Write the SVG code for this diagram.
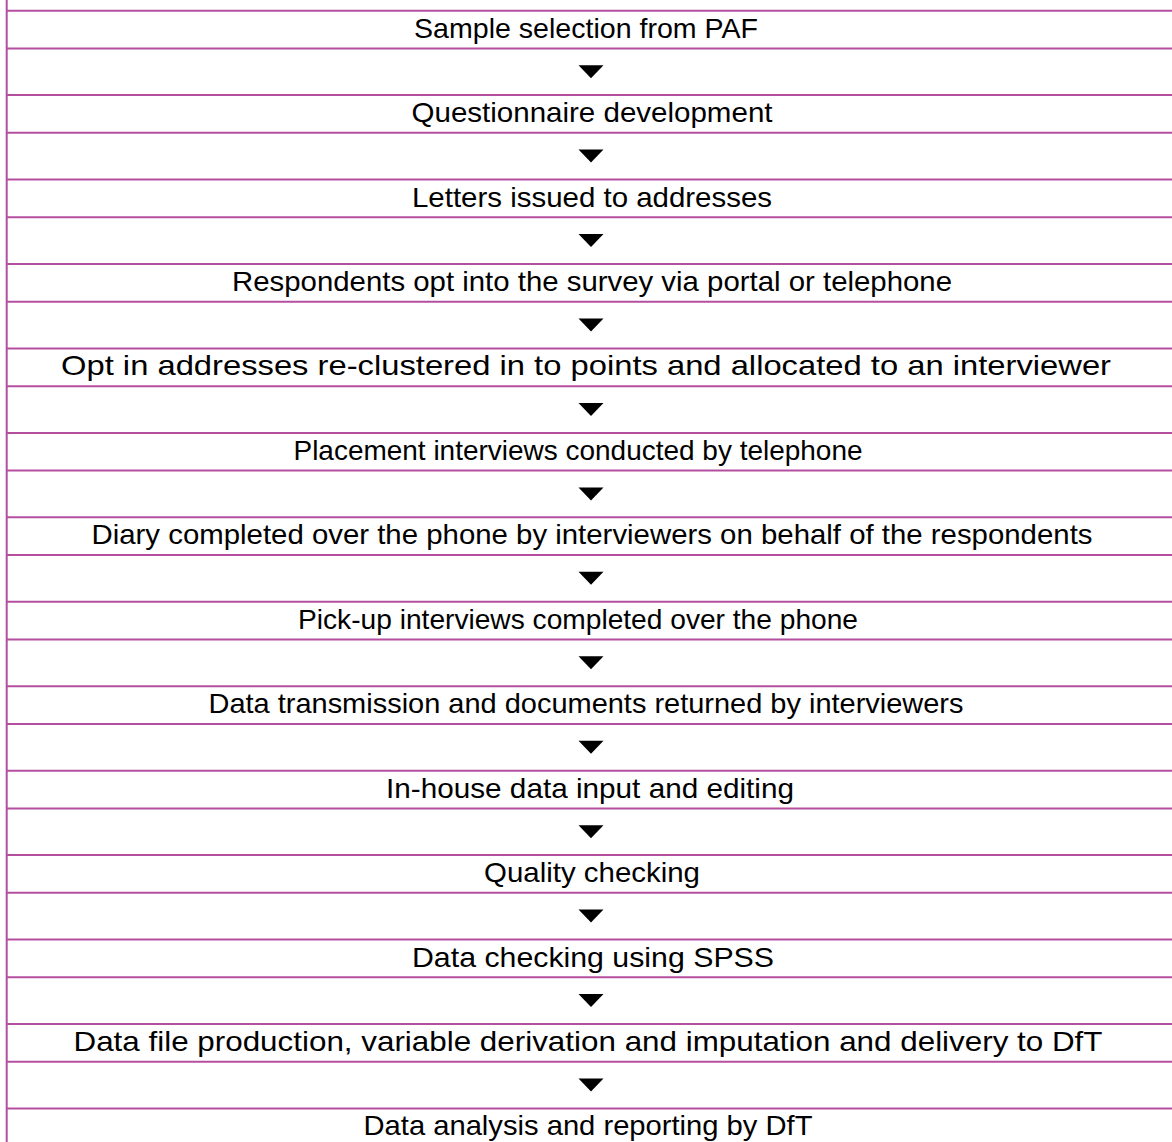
<svg xmlns="http://www.w3.org/2000/svg" width="1172" height="1142" viewBox="0 0 1172 1142">
  <defs>
    <style>
      .rule { stroke: #B44FA0; stroke-width: 2; fill: none; }
      .step { font-family: "Liberation Sans", Arial, sans-serif; font-size: 28.5px; fill: #000; text-anchor: middle; }
      .arrow { fill: #000; }
    </style>
    <polygon id="tri" class="arrow" points="-12.5,0 12.5,0 0,13"/>
  </defs>
  <rect width="1172" height="1142" fill="#fff"/>

  <!-- table rules: step rows 37.7 tall, arrow rows 46.7 tall -->
  <g id="grid" class="rule">
    <line x1="6.7" y1="0" x2="6.7" y2="1142"/>
    <line x1="6" y1="10.7" x2="1172" y2="10.7"/><line x1="6" y1="48.4" x2="1172" y2="48.4"/>
    <line x1="6" y1="95.1" x2="1172" y2="95.1"/><line x1="6" y1="132.8" x2="1172" y2="132.8"/>
    <line x1="6" y1="179.6" x2="1172" y2="179.6"/><line x1="6" y1="217.3" x2="1172" y2="217.3"/>
    <line x1="6" y1="264.0" x2="1172" y2="264.0"/><line x1="6" y1="301.7" x2="1172" y2="301.7"/>
    <line x1="6" y1="348.5" x2="1172" y2="348.5"/><line x1="6" y1="386.2" x2="1172" y2="386.2"/>
    <line x1="6" y1="432.9" x2="1172" y2="432.9"/><line x1="6" y1="470.6" x2="1172" y2="470.6"/>
    <line x1="6" y1="517.3" x2="1172" y2="517.3"/><line x1="6" y1="555.0" x2="1172" y2="555.0"/>
    <line x1="6" y1="601.8" x2="1172" y2="601.8"/><line x1="6" y1="639.5" x2="1172" y2="639.5"/>
    <line x1="6" y1="686.2" x2="1172" y2="686.2"/><line x1="6" y1="723.9" x2="1172" y2="723.9"/>
    <line x1="6" y1="770.7" x2="1172" y2="770.7"/><line x1="6" y1="808.4" x2="1172" y2="808.4"/>
    <line x1="6" y1="855.1" x2="1172" y2="855.1"/><line x1="6" y1="892.8" x2="1172" y2="892.8"/>
    <line x1="6" y1="939.6" x2="1172" y2="939.6"/><line x1="6" y1="977.3" x2="1172" y2="977.3"/>
    <line x1="6" y1="1024.0" x2="1172" y2="1024.0"/><line x1="6" y1="1061.7" x2="1172" y2="1061.7"/>
    <line x1="6" y1="1108.5" x2="1172" y2="1108.5"/>
  </g>

  <!-- process steps -->
  <g id="step1"><text class="step" x="586" y="37.6" textLength="344" lengthAdjust="spacingAndGlyphs">Sample selection from PAF</text></g>
  <g id="step2"><text class="step" x="592" y="122.0" textLength="361" lengthAdjust="spacingAndGlyphs">Questionnaire development</text></g>
  <g id="step3"><text class="step" x="592" y="206.5" textLength="360" lengthAdjust="spacingAndGlyphs">Letters issued to addresses</text></g>
  <g id="step4"><text class="step" x="592" y="290.9" textLength="720" lengthAdjust="spacingAndGlyphs">Respondents opt into the survey via portal or telephone</text></g>
  <g id="step5"><text class="step" x="586" y="375.4" textLength="1050" lengthAdjust="spacingAndGlyphs">Opt in addresses re-clustered in to points and allocated to an interviewer</text></g>
  <g id="step6"><text class="step" x="578" y="459.8" textLength="569" lengthAdjust="spacingAndGlyphs">Placement interviews conducted by telephone</text></g>
  <g id="step7"><text class="step" x="592" y="544.2" textLength="1001" lengthAdjust="spacingAndGlyphs">Diary completed over the phone by interviewers on behalf of the respondents</text></g>
  <g id="step8"><text class="step" x="578" y="628.7" textLength="560" lengthAdjust="spacingAndGlyphs">Pick-up interviews completed over the phone</text></g>
  <g id="step9"><text class="step" x="586" y="713.1" textLength="755" lengthAdjust="spacingAndGlyphs">Data transmission and documents returned by interviewers</text></g>
  <g id="step10"><text class="step" x="590" y="797.6" textLength="408" lengthAdjust="spacingAndGlyphs">In-house data input and editing</text></g>
  <g id="step11"><text class="step" x="592" y="882.0" textLength="216" lengthAdjust="spacingAndGlyphs">Quality checking</text></g>
  <g id="step12"><text class="step" x="593" y="966.5" textLength="362" lengthAdjust="spacingAndGlyphs">Data checking using SPSS</text></g>
  <g id="step13"><text class="step" x="588" y="1050.9" textLength="1029" lengthAdjust="spacingAndGlyphs">Data file production, variable derivation and imputation and delivery to DfT</text></g>
  <g id="step14"><text class="step" x="588" y="1135.3" textLength="449" lengthAdjust="spacingAndGlyphs">Data analysis and reporting by DfT</text></g>

  <!-- down arrows between steps -->
  <g id="connectors">
    <use href="#tri" x="591" y="65.2"/>
    <use href="#tri" x="591" y="149.6"/>
    <use href="#tri" x="591" y="234.1"/>
    <use href="#tri" x="591" y="318.5"/>
    <use href="#tri" x="591" y="403.0"/>
    <use href="#tri" x="591" y="487.4"/>
    <use href="#tri" x="591" y="571.8"/>
    <use href="#tri" x="591" y="656.3"/>
    <use href="#tri" x="591" y="740.7"/>
    <use href="#tri" x="591" y="825.2"/>
    <use href="#tri" x="591" y="909.6"/>
    <use href="#tri" x="591" y="994.1"/>
    <use href="#tri" x="591" y="1078.5"/>
  </g>
</svg>
